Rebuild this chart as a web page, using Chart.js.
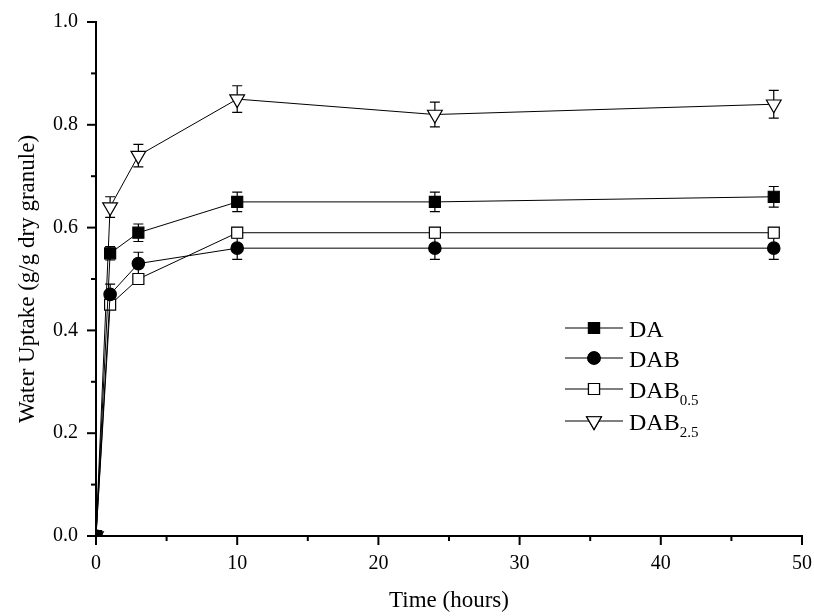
<!DOCTYPE html>
<html>
<head>
<meta charset="utf-8">
<script src="https://cdn.jsdelivr.net/npm/chart.js@4.4.0/dist/chart.umd.min.js"></script>
<style>
  html, body { margin: 0; padding: 0; background: #fff; }
  #wrap { width: 814px; height: 616px; position: relative; }
</style>
</head>
<body>
<div id="wrap"><canvas id="grafica"></canvas></div>
<script>
// datos
const horas = [0, 1, 3, 10, 24, 48];

const nombres = ["DA", "DAB", "DAB", "DAB"];
const subindices = ["", "", "0.5", "2.5"];

const da = [0, 0.55, 0.59, 0.65, 0.65, 0.66];
const dab = [0, 0.47, 0.53, 0.56, 0.56, 0.56];
const dab05 = [0, 0.45, 0.50, 0.59, 0.59, 0.59];
const dab25 = [0, 0.64, 0.74, 0.85, 0.82, 0.84];

const errDa = [0, 0.013, 0.017, 0.019, 0.019, 0.02];
const errDab = [0, 0.02, 0.022, 0.022, 0.022, 0.022];
const errDab05 = [0, 0.008, 0.008, 0.01, 0.01, 0.01];
const errDab25 = [0, 0.02, 0.022, 0.026, 0.024, 0.027];

const xTicks = [0, 10, 20, 30, 40, 50];
const yTicks = [0, 0.2, 0.4, 0.6, 0.8, 1.0];

const FUENTE = "'Liberation Serif', 'Times New Roman', serif";

function puntos(valores) {
  return horas.map((h, i) => ({ x: h, y: valores[i] }));
}

const estilos = [
  { valores: da, err: errDa, estilo: "rect", radio: 7.8, relleno: "#000", rot: 0 },
  { valores: dab, err: errDab, estilo: "circle", radio: 6.2, relleno: "#000", rot: 0 },
  { valores: dab05, err: errDab05, estilo: "rect", radio: 7.8, relleno: "#fff", rot: 0 },
  { valores: dab25, err: errDab25, estilo: "triangle", radio: 8.5, relleno: "#fff", rot: 180 }
];

// barras de error (se dibujan antes de los marcadores)
const barrasError = {
  id: "barrasError",
  beforeDatasetsDraw(chart) {
    const { ctx, scales: { x, y } } = chart;
    ctx.save();
    ctx.strokeStyle = "#000";
    ctx.lineWidth = 1.2;
    estilos.forEach((s) => {
      horas.forEach((h, i) => {
        const e = s.err[i];
        if (!e) return;
        const px = x.getPixelForValue(h);
        const y1 = y.getPixelForValue(s.valores[i] + e);
        const y2 = y.getPixelForValue(s.valores[i] - e);
        ctx.beginPath();
        ctx.moveTo(px, y1); ctx.lineTo(px, y2);
        ctx.moveTo(px - 5, y1); ctx.lineTo(px + 5, y1);
        ctx.moveTo(px - 5, y2); ctx.lineTo(px + 5, y2);
        ctx.stroke();
      });
    });
    ctx.restore();
  }
};

// marcas de los ejes (mayores y menores, hacia afuera)
const marcasEjes = {
  id: "marcasEjes",
  afterDraw(chart) {
    const { ctx, scales: { x, y }, chartArea } = chart;
    ctx.save();
    ctx.strokeStyle = "#000";
    ctx.lineWidth = 2;
    for (let v = 0; v <= 50; v += 5) {
      const px = x.getPixelForValue(v);
      const largo = v % 10 === 0 ? 9 : 5;
      ctx.beginPath();
      ctx.moveTo(px, chartArea.bottom);
      ctx.lineTo(px, chartArea.bottom + largo);
      ctx.stroke();
    }
    for (let k = 0; k <= 10; k++) {
      const py = y.getPixelForValue(k / 10);
      const largo = k % 2 === 0 ? 9 : 5;
      ctx.beginPath();
      ctx.moveTo(chartArea.left, py);
      ctx.lineTo(chartArea.left - largo, py);
      ctx.stroke();
    }
    ctx.restore();
  }
};

// leyenda con subindices
const leyenda = {
  id: "leyenda",
  afterDraw(chart) {
    const { ctx } = chart;
    const filas = [328, 358, 389, 421];
    ctx.save();
    estilos.forEach((s, i) => {
      const cy = filas[i];
      ctx.strokeStyle = "#000";
      ctx.lineWidth = 1.2;
      ctx.beginPath();
      ctx.moveTo(565, cy); ctx.lineTo(623, cy);
      ctx.stroke();
      ctx.fillStyle = s.relleno;
      ctx.lineWidth = 1.2;
      Chart.helpers.drawPoint(ctx, { pointStyle: s.estilo, radius: s.radio, rotation: s.rot, borderWidth: 1.2 }, 594, cy);
      ctx.fill();
      ctx.stroke();
      ctx.fillStyle = "#000";
      ctx.textBaseline = "alphabetic";
      ctx.textAlign = "left";
      ctx.font = "24px " + FUENTE;
      ctx.fillText(nombres[i], 629, cy + 8.5);
      if (subindices[i]) {
        const w = ctx.measureText(nombres[i]).width;
        ctx.font = "15px " + FUENTE;
        ctx.fillText(subindices[i], 629 + w, cy + 16);
      }
    });
    ctx.restore();
  }
};

new Chart(document.getElementById("grafica"), {
  type: "scatter",
  data: {
    datasets: estilos.map((s, i) => ({
      label: nombres[i] + subindices[i],
      data: puntos(s.valores),
      showLine: true,
      borderColor: "#000",
      borderWidth: 1,
      pointStyle: s.estilo,
      pointRadius: s.radio,
      pointRotation: s.rot,
      pointBackgroundColor: s.relleno,
      pointBorderColor: "#000",
      pointBorderWidth: 1.2,
      clip: 0
    }))
  },
  options: {
    responsive: true,
    maintainAspectRatio: false,
    animation: false,
    layout: { autoPadding: false, padding: { top: 22, right: 12, bottom: 0, left: 0 } },
    plugins: {
      legend: { display: false },
      tooltip: { enabled: false }
    },
    scales: {
      x: {
        type: "linear",
        min: 0,
        max: 50,
        afterBuildTicks: (scale) => { scale.ticks = xTicks.map((v) => ({ value: v })); },
        afterFit: (scale) => {
          scale.height = 80;
          scale.paddingLeft = 0;
          scale.paddingRight = 0;
        },
        grid: { display: false, drawTicks: false },
        border: { display: true, color: "#000", width: 2 },
        ticks: {
          color: "#000",
          padding: 16,
          maxRotation: 0,
          font: { family: FUENTE, size: 20 }
        },
        title: {
          display: true,
          text: "Time (hours)",
          color: "#000",
          padding: { top: 0, bottom: 1 },
          font: { family: FUENTE, size: 23 }
        }
      },
      y: {
        type: "linear",
        min: 0,
        max: 1,
        afterBuildTicks: (scale) => { scale.ticks = yTicks.map((v) => ({ value: v })); },
        afterFit: (scale) => {
          scale.width = 96;
          scale.paddingTop = 0;
          scale.paddingBottom = 0;
        },
        grid: { display: false, drawTicks: false },
        border: { display: true, color: "#000", width: 2 },
        ticks: {
          color: "#000",
          padding: 18,
          font: { family: FUENTE, size: 20 },
          callback: (v) => Number(v).toFixed(1)
        },
        title: {
          display: true,
          text: "Water Uptake (g/g dry granule)",
          color: "#000",
          padding: { top: 14, bottom: 0 },
          font: { family: FUENTE, size: 23 }
        }
      }
    }
  },
  plugins: [barrasError, marcasEjes, leyenda]
});
</script>
</body>
</html>
